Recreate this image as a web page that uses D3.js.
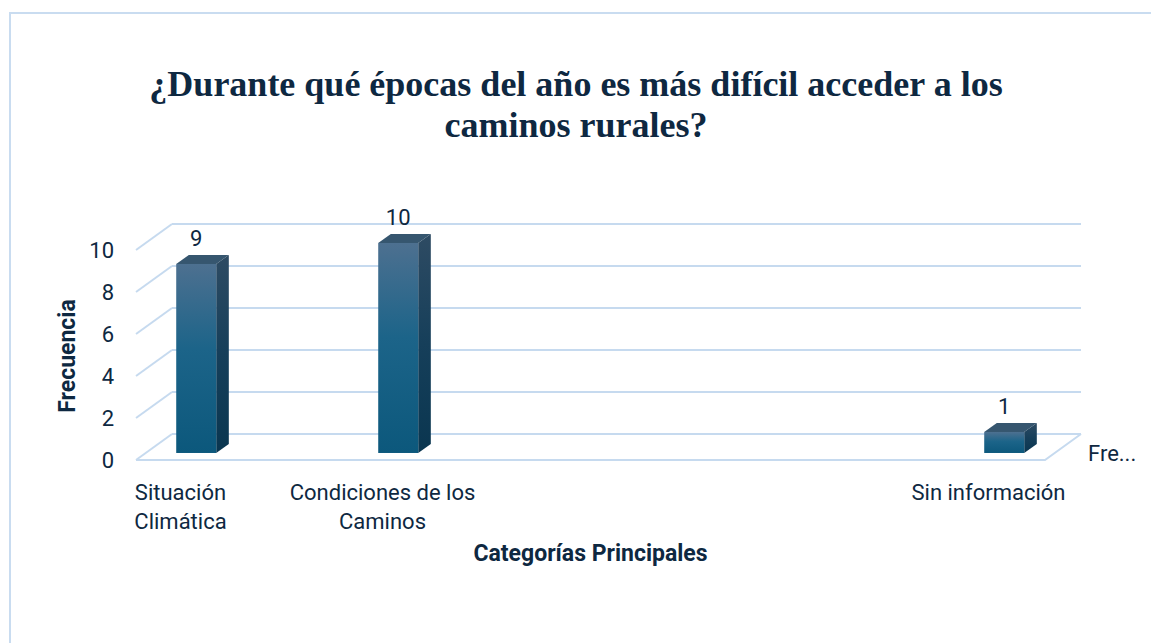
<!DOCTYPE html>
<html lang="es">
<head>
<meta charset="utf-8">
<script src="https://cdn.jsdelivr.net/npm/d3@7"></script>
<style>
  html, body { margin: 0; padding: 0; background: #ffffff; }
  svg { display: block; }
</style>
</head>
<body>
<div id="chart"></div>
<script>
// ---- data ----
const titleLines = ["¿Durante qué épocas del año es más difícil acceder a los", "caminos rurales?"];
const categories = ["Situación\nClimática", "Condiciones de los\nCaminos", "", "", "Sin información"];
const values = [9, 10, null, null, 1];
const yTicks = [0, 2, 4, 6, 8, 10];
const yAxisTitle = "Frecuencia";
const xAxisTitle = "Categorías Principales";
const legendText = "Fre...";

// ---- layout ----
const W = 1151, H = 643;
const textColor = "#0E2841";
const gridColor = "#C6DAEF";
const font = "Roboto, 'Noto Sans', sans-serif";
const labelSize = 22;

const svg = d3.select("#chart").append("svg")
  .attr("width", W).attr("height", H)
  .attr("viewBox", `0 0 ${W} ${H}`);

svg.append("rect").attr("width", W).attr("height", H).attr("fill", "#fff");

// chart area border (runs off the right and bottom edges)
svg.append("rect")
  .attr("x", 10).attr("y", 13)
  .attr("width", W + 20).attr("height", H + 20)
  .attr("fill", "none").attr("stroke", "#C9DCF0").attr("stroke-width", 2);

// 3D projection: front plane of the floor plus a depth vector
const floorLeft = 136, floorRight = 1045;
const depth = { dx: 36, dy: -26 };
const x = d3.scalePoint().domain(d3.range(categories.length))
  .range([floorLeft, floorRight]).padding(0.25);
const y = d3.scaleLinear().domain([0, 10]).range([460, 250]);
const P = (px, v, z) => [px + z * depth.dx, y(v) + z * depth.dy];

// ---- gradients ----
const defs = svg.append("defs");
function vGrad(id, stops) {
  const g = defs.append("linearGradient").attr("id", id)
    .attr("x1", 0).attr("y1", 0).attr("x2", 0).attr("y2", 1);
  stops.forEach(([o, c]) => g.append("stop").attr("offset", o).attr("stop-color", c));
}
vGrad("gFront", [[0, "#4D7090"], [0.45, "#1C6489"], [1, "#0C587C"]]);
vGrad("gSide", [[0, "#2E4B63"], [0.5, "#163F5A"], [1, "#0A3650"]]);

// ---- gridlines ----
const grid = svg.append("g").attr("stroke", gridColor).attr("stroke-width", 2).attr("fill", "none");
const line = d3.line();
yTicks.forEach(t => {
  grid.append("path").attr("d", line([P(floorLeft, t, 1), P(floorRight, t, 1)]));
  grid.append("path").attr("d", line([P(floorLeft, t, 0), P(floorLeft, t, 1)]));
});
// floor front and right edges
grid.append("path").attr("d", line([P(floorLeft, 0, 0), P(floorRight, 0, 0), P(floorRight, 0, 1)]));

// ---- y tick labels ----
svg.append("g").selectAll("text").data(yTicks).join("text")
  .attr("x", 114).attr("y", d => y(d)).attr("dy", "0.36em")
  .attr("text-anchor", "end")
  .attr("font-family", font).attr("font-size", labelSize).attr("fill", textColor)
  .text(d => d);

// ---- bars ----
const half = 20, z0 = 0.27, z1 = 0.62;
const bars = values.map((v, i) => ({ v, i })).filter(d => d.v != null);
const bg = svg.append("g");
bars.forEach(d => {
  const cx = x(d.i);
  const g = bg.append("g");
  const f0 = P(cx - half, d.v, z0), f1 = P(cx + half, 0, z0);
  // side face
  g.append("path").attr("fill", "url(#gSide)")
    .attr("d", line([P(cx + half, 0, z0), P(cx + half, d.v, z0), P(cx + half, d.v, z1), P(cx + half, 0, z1)]) + "Z");
  // top face
  g.append("path").attr("fill", "#36566F")
    .attr("d", line([P(cx - half, d.v, z0), P(cx + half, d.v, z0), P(cx + half, d.v, z1), P(cx - half, d.v, z1)]) + "Z");
  // front face
  g.append("rect").attr("fill", "url(#gFront)")
    .attr("x", f0[0]).attr("y", f0[1])
    .attr("width", f1[0] - f0[0]).attr("height", f1[1] - f0[1]);
  // value label
  g.append("text")
    .attr("x", (f0[0] + f1[0]) / 2).attr("y", f0[1] - 18)
    .attr("text-anchor", "middle")
    .attr("font-family", font).attr("font-size", labelSize).attr("fill", textColor)
    .text(d.v);
});

// ---- category labels ----
const cg = svg.append("g");
categories.forEach((c, i) => {
  if (!c) return;
  const t = cg.append("text")
    .attr("text-anchor", "middle")
    .attr("font-family", font).attr("font-size", labelSize).attr("fill", textColor);
  c.split("\n").forEach((ln, k) => {
    t.append("tspan").attr("x", x(i) - 6).attr("y", 500 + k * 29).text(ln);
  });
});

// ---- axis titles ----
svg.append("text")
  .attr("x", (floorLeft + floorRight) / 2).attr("y", 561)
  .attr("text-anchor", "middle")
  .attr("font-family", font).attr("font-size", 23).attr("font-weight", "bold")
  .attr("fill", textColor).text(xAxisTitle);

svg.append("text")
  .attr("transform", "translate(75,356) rotate(-90)")
  .attr("text-anchor", "middle")
  .attr("font-family", font).attr("font-size", 23).attr("font-weight", "bold")
  .attr("fill", textColor).text(yAxisTitle);

// ---- legend ----
svg.append("text")
  .attr("x", 1088).attr("y", 461)
  .attr("font-family", font).attr("font-size", labelSize).attr("fill", textColor)
  .text(legendText);

// ---- title ----
svg.append("g").selectAll("text").data(titleLines).join("text")
  .attr("x", 576).attr("y", (d, i) => 96 + i * 41)
  .attr("text-anchor", "middle")
  .attr("font-family", "'Liberation Serif', 'Times New Roman', serif")
  .attr("font-size", 36).attr("font-weight", "bold")
  .attr("fill", textColor)
  .text(d => d);
</script>
</body>
</html>
